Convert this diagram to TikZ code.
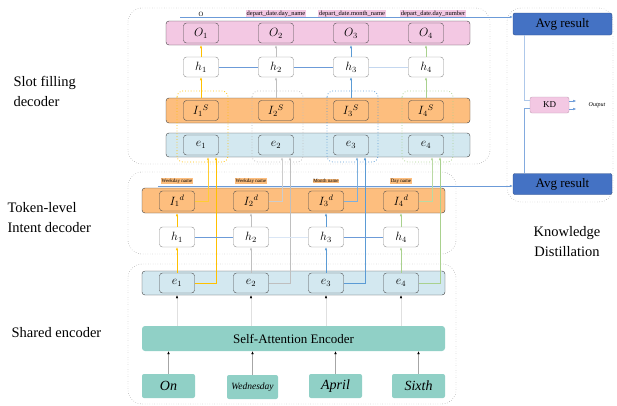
\documentclass[tikz,border=0pt]{standalone}
\usepackage{fontspec}
\setmainfont{Liberation Serif}
\usepackage{tikz}
\usetikzlibrary{arrows.meta,calc,positioning}
\definecolor{pinkbar}{HTML}{F3C8E3}
\definecolor{orangebar}{HTML}{FDBE7E}
\definecolor{bluebar}{HTML}{D3E8F0}
\definecolor{tealbar}{HTML}{90D0C6}
\definecolor{avgblue}{HTML}{4472C4}
\definecolor{cyel}{HTML}{FFC000}
\definecolor{cgray}{HTML}{BFBFBF}
\definecolor{cblue}{HTML}{5B9BD5}
\definecolor{cgreen}{HTML}{A9D18E}
\definecolor{lineblue}{HTML}{6C9BD8}

\tikzset{
  bar/.style={draw=black!75,rounded corners=3pt,minimum width=304pt,minimum height=24pt,inner sep=0pt},
  cell/.style={draw=black!70,rounded corners=3pt,minimum width=35pt,minimum height=20pt,inner sep=0pt,font=\fontsize{12}{12}\selectfont},
  hcell/.style={cell,fill=white,draw=black!45},
  region/.style={draw=black!60,dotted,rounded corners=14pt},
  tag/.style={font=\fontsize{5}{5}\selectfont,inner sep=0.6pt},
  word/.style={fill=tealbar,rounded corners=2pt,minimum width=53pt,minimum height=24pt,inner sep=0pt,font=\itshape\fontsize{14}{14}\selectfont},
  arr/.style={-{Latex[length=3pt,width=2.5pt]}},
  side/.style={anchor=west,align=left,font=\fontsize{14.5}{20}\selectfont}
}

\begin{document}
\begin{tikzpicture}[x=1pt,y=-1pt]
  \useasboundingbox (0,0) rectangle (617,405);
  % regions
  \draw[region] (128,8) rectangle (490,164);
  \draw[region] (128,172) rectangle (456,254);
  \draw[region] (128,264) rectangle (456,404);
  \draw[region] (507,8) rectangle (613,202);

  \node[side] (lslot) at (10,91) {Slot filling\\decoder};
  \node[side] (ltok) at (4,218) {Token-level\\Intent decoder};
  \node[side] (lshared) at (8,333) {Shared encoder};
  \node[align=center,font=\fontsize{14.5}{20}\selectfont] (lkd) at (567,242) {Knowledge\\Distillation};

  % slot filling decoder
  \node[bar,fill=pinkbar] (obar) at (318,33) {};
  \node[bar,fill=orangebar,minimum height=25pt] (isbar) at (318,110.5) {};
  \node[bar,fill=bluebar] (esbar) at (318,145) {};
  \foreach \i/\x/\c in {1/201/cyel,2/276/cgray,3/351/cblue,4/426/cgreen} {
    \draw[\c,dotted,thick,rounded corners=6pt] (\x-24,91) rectangle (\x+27,162);
    \node[cell,fill=pinkbar] (o\i) at (\x,33) {$O_{\i}$};
    \node[hcell] (hs\i) at (\x,67) {$h_{\i}$};
    \node[cell,fill=orangebar] (is\i) at (\x,110.5) {$I_{\i}{}^{S}$};
    \node[cell,fill=bluebar] (es\i) at (\x,145) {$e_{\i}$};
    \draw[arr,\c] (is\i |- isbar.north) -- (hs\i.south);
    \draw[arr,\c] (hs\i.north) -- (hs\i.north |- obar.south);
  }
  \draw[lineblue] (hs1) -- (hs2);
  \draw[lineblue] (hs2) -- (hs3);
  \draw[lineblue!40] (hs3) -- (hs4);
  \node[tag,font=\fontsize{6.5}{6.5}\selectfont] (t1) at (201,14) {O};
  \node[tag,fill=pinkbar,font=\fontsize{6.5}{6.5}\selectfont] (t2) at (276,14) {depart\_date.day\_name};
  \node[tag,fill=pinkbar,font=\fontsize{6.5}{6.5}\selectfont] (t3) at (352,14) {depart\_date.month\_name};
  \node[tag,fill=pinkbar,font=\fontsize{6.5}{6.5}\selectfont] (t4) at (433,14) {depart\_date.day\_number};

  % knowledge distillation
  \node[fill=avgblue,draw=avgblue!70!black,rounded corners=2pt,minimum width=99pt,minimum height=22pt,inner sep=0pt,font=\fontsize{13}{13}\selectfont] (avgtop) at (562.5,24) {Avg result};
  \node[fill=avgblue,draw=avgblue!70!black,rounded corners=2pt,minimum width=99pt,minimum height=21pt,inner sep=0pt,font=\fontsize{13}{13}\selectfont] (avgbot) at (562.5,184) {Avg result};
  \node[fill=pinkbar,draw=pinkbar!80!black,rounded corners=2pt,minimum width=39pt,minimum height=16pt,inner sep=0pt,font=\fontsize{9}{9}\selectfont] (kd) at (549.5,105) {KD};
  \node[font=\itshape\fontsize{6}{6}\selectfont] (outlbl) at (597,105) {Output};
  \draw[lineblue!55] ($(avgtop.south west)+(11,0)$) |- ($(kd.west)+(0,-5)$);
  \draw[lineblue!85] ($(avgbot.north west)+(11,0)$) |- ($(kd.west)+(0,3)$);
  \draw[arr,lineblue] ($(kd.east)+(0,-4)$) -- ++(7,0);
  \draw[arr,lineblue] ($(kd.east)+(0,4)$) -- ++(7,0);
  \coordinate (ostart) at (180,17);
  \draw[arr,lineblue] (ostart) -- (ostart -| avgtop.west);

  % token-level intent decoder
  \node[bar,fill=orangebar,minimum width=303pt,minimum height=25pt] (idbar) at (293.5,200.5) {};
  \coordinate (dstart) at (158,186);
  \draw[arr,lineblue] (dstart) -- (dstart -| avgbot.west);
  \node[tag,fill=orangebar] (w1) at (177,181) {Weekday name};
  \node[tag,fill=orangebar] (w2) at (251,181) {Weekday name};
  \node[tag,fill=orangebar] (w3) at (326,181) {Month name};
  \node[tag,fill=orangebar] (w4) at (401,181) {Day name};

  % shared encoder
  \node[bar,fill=bluebar,minimum width=303pt] (ebar) at (293.5,283) {};
  \node[fill=tealbar,rounded corners=3pt,minimum width=303pt,minimum height=25pt,inner sep=0pt,font=\fontsize{13}{13}\selectfont] (enc) at (293.5,338.5) {Self-Attention Encoder};
  \node[word] (win1) at (168.5,386) {On};
  \node[word,minimum width=51pt,font=\itshape\fontsize{9.5}{9.5}\selectfont] (win2) at (252.5,387) {Wednesday};
  \node[word] (win3) at (335.5,386) {April};
  \node[word] (win4) at (418.5,386) {Sixth};

  \foreach \i/\x/\c in {1/177/cyel,2/251/cgray,3/326/cblue,4/401/cgreen} {
    \node[cell,fill=orangebar] (id\i) at (\x,201) {$I_{\i}{}^{d}$};
    \node[hcell] (ht\i) at (\x,237) {$h_{\i}$};
    \node[cell,fill=bluebar] (e\i) at (\x,283) {$e_{\i}$};
    \draw[arr,\c] (e\i.north) -- (ht\i.south);
    \draw[arr,\c] (ht\i.north) -- (ht\i.north |- idbar.south);
    \draw[arr,\c!80] (id\i.east) -| ($(esbar.south -| id\i.center)+(31,0)$);
    \draw[arr,\c] (e\i.east) -| ($(esbar.south -| e\i.center)+(39,0)$);
    \draw[arr,black!12,-{Latex[length=3pt,width=2.5pt,black]}] (enc.north -| e\i) -- (e\i.south |- ebar.south);
    \draw[arr,black!35,-{Latex[length=3pt,width=2.5pt,black]}] (win\i.north) -- (win\i.north |- enc.south);
  }
  \draw[lineblue] (ht1) -- (ht2);
  \draw[lineblue!25] (ht2) -- (ht3);
  \draw[lineblue] (ht3) -- (ht4);
\end{tikzpicture}
\end{document}
